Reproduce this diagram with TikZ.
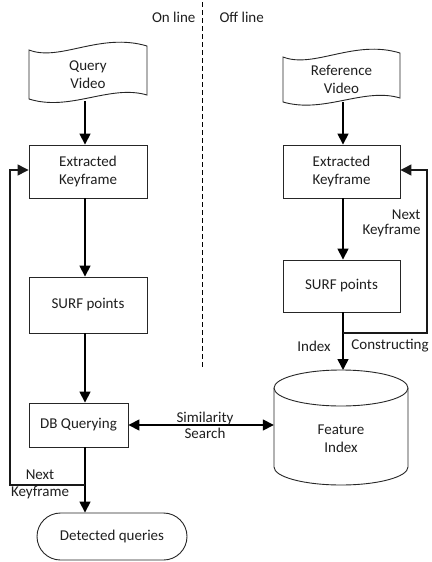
\documentclass[tikz,border=0pt]{standalone}
\usepackage{fontspec}
\setmainfont{Carlito}
\usetikzlibrary{arrows.meta,shapes.misc,calc}
\begin{document}
\begin{tikzpicture}[x=1pt,y=-1pt,
  txt/.style={font=\fontsize{15}{17.7}\selectfont, text=black!88, align=center},
  box/.style={txt, draw=black!85, line width=0.9pt, fill=white, minimum width=118pt, inner sep=0pt},
  conn/.style={line width=1.6pt, draw=black, -{Triangle[length=11pt,width=11pt]}},
  plain/.style={line width=1.3pt, draw=black!90},
  shapeline/.style={draw=black!85, line width=0.9pt}]
\useasboundingbox (0,0) rectangle (431,562);
\fill[white] (0,0) rectangle (431,562);

% column guides
\coordinate (lx) at (85,0);
\coordinate (rx) at (343,0);

% divider
\draw[line width=1pt, dash pattern=on 5pt off 3pt] (202,2) -- (202,368);
\node[txt, anchor=east] (on) at (199,17) {On line};
\node[txt, anchor=west] (off) at (216,17) {Off line};

% Query video (tape shape)
\draw[shapeline, fill=white] (29,50) .. controls (60,62) and (100,32) .. (147,46)
  -- (147,95) .. controls (110,84) and (70,112) .. (29,99) -- cycle;
\node[txt, minimum width=118pt, minimum height=49pt] (qv) at (88,74.5) {Query\\Video};

% Reference video
\draw[shapeline, fill=white] (283,57) .. controls (314,69) and (354,39) .. (400,53)
  -- (400,98) .. controls (364,87) and (324,114) .. (283,102) -- cycle;
\node[txt, minimum width=117pt, minimum height=45pt] (rv) at (341.5,79.5) {Reference\\Video};

% left column boxes
\node[box, minimum height=53pt] (ek1) at (88,171.5) {Extracted\\Keyframe};
\node[box, minimum height=56pt] (sp1) at (88,305) {SURF points};
\node[box, minimum width=99pt, minimum height=44pt] (db) at (78.5,425) {DB Querying};
\node[box, rounded rectangle, minimum width=150pt, minimum height=47pt] (dq) at (112,536.5) {Detected queries};

% right column boxes
\node[box, minimum width=117pt, minimum height=53pt] (ek2) at (341.5,171.5) {Extracted\\Keyframe};
\node[box, minimum width=117pt, minimum height=52pt] (sp2) at (341.5,286) {SURF points};

% cylinder
\node[txt, minimum width=134pt, minimum height=115pt, draw=none] (fi) at (341,427.5) {};
\draw[shapeline, fill=white] (274,388) -- (274,467) arc[start angle=180, end angle=360, x radius=67pt, y radius=18pt]
  -- (408,388);
\draw[shapeline, fill=white] (341,388) ellipse [x radius=67pt, y radius=18pt];
\node[txt] (fit) at (341,439) {Feature\\Index};

% left connectors
\draw[conn] (qv.south -| lx) ++(0,2) -- (ek1.north -| lx);
\draw[conn] (ek1.south -| lx) -- (sp1.north -| lx);
\draw[conn] (sp1.south -| lx) -- (db.north -| lx);
\draw[conn] (db.south -| lx) -- (dq.north -| lx);
\coordinate (lfb) at (85,485);
\draw[plain, -{Triangle[length=11pt,width=11pt]}] (lfb) -- (10,485) -- (10,170) -- (ek1.west |- 0,170);
\node[txt] (nk1a) at (40,475) {Next};
\node[txt] (nk1b) at (40,493) {Keyframe};

% right connectors
\draw[conn] (rv.south -| rx) -- (ek2.north -| rx);
\draw[conn] (ek2.south -| rx) -- (sp2.north -| rx);
\draw[conn] (sp2.south -| rx) -- (343,370);
\coordinate (rfb) at (343,333);
\draw[plain, -{Triangle[length=11pt,width=11pt]}] (rfb) -- (427,333) -- (427,170) -- (ek2.east |- 0,170);
\node[txt, anchor=east] (nk2a) at (424,215) {Next};
\node[txt, anchor=east] (nk2b) at (424,231) {Keyframe};
\node[txt] (idx) at (314,346) {Index};
\node[txt] (con) at (390,346) {Constructing};

% similarity search
\draw[line width=1.6pt, {Triangle[length=11pt,width=11pt]}-{Triangle[length=11pt,width=11pt]}] (db.east) -- (fi.west |- db.east);
\node[txt, font=\fontsize{15}{16}\selectfont] (ss) at (205,425) {Similarity\\Search};
\end{tikzpicture}
\end{document}
